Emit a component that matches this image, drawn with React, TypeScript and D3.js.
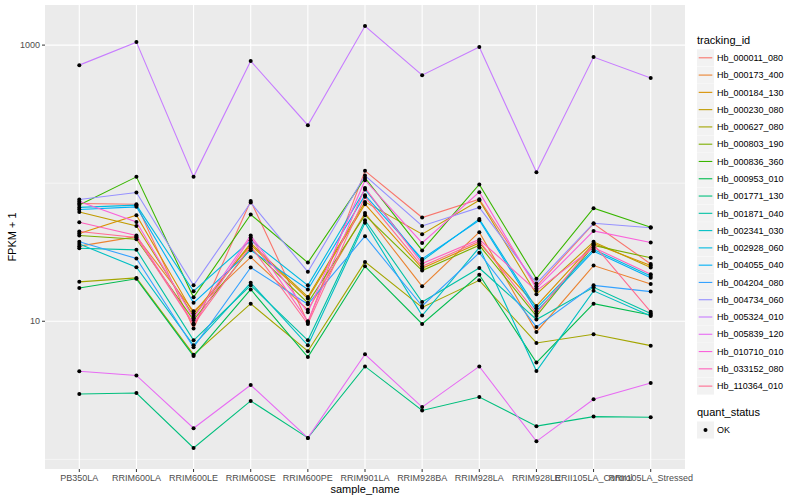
import * as d3 from 'd3';
import { useEffect, useRef } from 'react';

const samples = [
  'PB350LA', 'RRIM600LA', 'RRIM600LE', 'RRIM600SE', 'RRIM600PE', 'RRIM901LA',
  'RRIM928BA', 'RRIM928LA', 'RRIM928LE', 'RRII105LA_Control', 'RRII105LA_Stressed',
];

const trackingIds = [
  'Hb_000011_080', 'Hb_000173_400', 'Hb_000184_130', 'Hb_000230_080', 'Hb_000627_080',
  'Hb_000803_190', 'Hb_000836_360', 'Hb_000953_010', 'Hb_001771_130', 'Hb_001871_040',
  'Hb_002341_030', 'Hb_002928_060', 'Hb_004055_040', 'Hb_004204_080', 'Hb_004734_060',
  'Hb_005324_010', 'Hb_005839_120', 'Hb_010710_010', 'Hb_033152_080', 'Hb_110364_010',
];

// FPKM + 1 per sample, one array per tracking id
const hb000011 = [71.3, 70.4, 8.85, 74.4, 9.78, 122.8, 56.4, 76.6, 17.9, 50.9, 26.0];
const hb000173 = [35.0, 41.0, 11.8, 29.1, 12.1, 60.9, 17.9, 44.2, 8.37, 25.3, 18.6];
const hb000184 = [43.2, 58.6, 11.4, 35.8, 14.6, 70.4, 24.2, 36.9, 12.9, 36.6, 25.3];
const hb000230 = [61.9, 49.0, 10.9, 36.8, 15.0, 73.2, 42.7, 75.3, 15.7, 37.6, 24.5];
const hb000627 = [19.3, 20.6, 5.73, 13.4, 6.06, 26.9, 12.6, 19.8, 6.96, 8.05, 6.66];
const hb000803 = [41.8, 39.3, 10.2, 33.8, 13.6, 58.6, 23.3, 35.5, 10.9, 35.4, 28.8];
const hb000836 = [69.6, 111.1, 14.9, 59.3, 26.6, 109.2, 32.6, 97.8, 20.3, 65.9, 48.0];
const hb000953 = [17.4, 20.3, 5.6, 17.0, 5.5, 25.0, 9.56, 21.7, 5.02, 13.4, 11.1];
const hb001771 = [2.97, 3.02, 1.21, 2.65, 1.43, 4.71, 2.26, 2.83, 1.74, 2.04, 2.02];
const hb001871 = [33.8, 32.9, 7.28, 18.2, 7.28, 53.9, 13.8, 24.3, 10.3, 17.6, 11.4];
const hb002341 = [36.3, 24.6, 6.7, 19.0, 6.7, 51.6, 11.0, 34.2, 4.36, 16.6, 10.9];
const hb002928 = [66.8, 69.3, 16.5, 38.6, 18.2, 90.1, 27.4, 55.1, 12.4, 33.1, 21.3];
const hb004055 = [64.5, 67.4, 13.6, 32.7, 17.0, 81.9, 28.3, 53.9, 11.8, 32.2, 20.7];
const hb004204 = [37.6, 28.5, 6.48, 24.5, 13.3, 41.3, 12.9, 31.3, 9.1, 18.2, 16.4];
const hb004734 = [76.2, 85.6, 18.2, 72.4, 22.8, 113.7, 49.0, 66.8, 18.8, 51.3, 47.5];
const hb005324 = [716, 1051, 111.1, 766, 263, 1373, 606, 967, 120.2, 819, 577];
const hb005839 = [4.34, 4.05, 1.68, 3.45, 1.43, 5.77, 2.39, 4.71, 1.35, 2.72, 3.57];
const hb010710 = [73.7, 52.4, 10.5, 41.8, 11.6, 105.1, 36.9, 86.1, 17.3, 45.1, 37.2];
const hb033152 = [52.2, 41.8, 9.62, 40.4, 10.0, 92.4, 26.2, 39.1, 16.6, 34.2, 21.9];
const hb110364 = [44.7, 40.4, 9.46, 35.0, 9.56, 79.7, 25.0, 38.0, 11.4, 36.1, 11.7];

const seriesValues = [
  hb000011, hb000173, hb000184, hb000230, hb000627, hb000803, hb000836, hb000953,
  hb001771, hb001871, hb002341, hb002928, hb004055, hb004204, hb004734, hb005324,
  hb005839, hb010710, hb033152, hb110364,
];

const yTicks = [10, 1000];
const yMinor = [1, 100];
const quantStatus = ['OK'];

const palette = [
  '#F8766D', '#EA8331', '#D89000', '#C09B00', '#A3A500', '#7CAE00', '#39B600', '#00BB4E',
  '#00BF7D', '#00C1A3', '#00BFC4', '#00BAE0', '#00B0F6', '#35A2FF', '#9590FF', '#C77CFF',
  '#E76BF3', '#FA62DB', '#FF62BC', '#FF6C91',
];

const FONT = '"Liberation Sans", Arial, sans-serif';

const App = () => {
  const svgRef = useRef<SVGSVGElement | null>(null);

  useEffect(() => {
    if (!svgRef.current) return;
    const svg = d3.select(svgRef.current);
    svg.selectAll('*').remove();

    const panel = { left: 45, right: 685, top: 5, bottom: 469 };

    const x = d3
      .scalePoint<string>()
      .domain(samples)
      .range([panel.left, panel.right])
      .padding(0.6);

    const all = seriesValues.flat();
    const lo = Math.log10(d3.min(all) as number);
    const hi = Math.log10(d3.max(all) as number);
    const pad = (hi - lo) * 0.05;
    const y = d3
      .scaleLog()
      .domain([10 ** (lo - pad), 10 ** (hi + pad)])
      .range([panel.bottom, panel.top]);

    svg.append('rect').attr('width', 800).attr('height', 500).attr('fill', '#fff');

    svg
      .append('rect')
      .attr('x', panel.left)
      .attr('y', panel.top)
      .attr('width', panel.right - panel.left)
      .attr('height', panel.bottom - panel.top)
      .attr('fill', '#EBEBEB');

    const grid = svg.append('g');
    grid
      .selectAll('.minor')
      .data(yMinor)
      .enter()
      .append('line')
      .attr('x1', panel.left)
      .attr('x2', panel.right)
      .attr('y1', (d) => y(d))
      .attr('y2', (d) => y(d))
      .attr('stroke', '#fff')
      .attr('stroke-width', 0.55);
    grid
      .selectAll('.major')
      .data(yTicks)
      .enter()
      .append('line')
      .attr('x1', panel.left)
      .attr('x2', panel.right)
      .attr('y1', (d) => y(d))
      .attr('y2', (d) => y(d))
      .attr('stroke', '#fff')
      .attr('stroke-width', 1.1);
    grid
      .selectAll('.vx')
      .data(samples)
      .enter()
      .append('line')
      .attr('x1', (d) => x(d) as number)
      .attr('x2', (d) => x(d) as number)
      .attr('y1', panel.top)
      .attr('y2', panel.bottom)
      .attr('stroke', '#fff')
      .attr('stroke-width', 1.1);

    const line = d3
      .line<number>()
      .x((_, i) => x(samples[i]) as number)
      .y((d) => y(d));

    svg
      .append('g')
      .selectAll('path')
      .data(seriesValues)
      .enter()
      .append('path')
      .attr('d', (d) => line(d))
      .attr('fill', 'none')
      .attr('stroke', (_, i) => palette[i])
      .attr('stroke-width', 1.1);

    const pts = seriesValues.flatMap((vals) => vals.map((v, i) => ({ s: samples[i], v })));
    svg
      .append('g')
      .selectAll('circle')
      .data(pts)
      .enter()
      .append('circle')
      .attr('cx', (d) => x(d.s) as number)
      .attr('cy', (d) => y(d.v))
      .attr('r', 2)
      .attr('fill', '#000');

    // y axis
    const yAxis = svg.append('g');
    yAxis
      .selectAll('line')
      .data(yTicks)
      .enter()
      .append('line')
      .attr('x1', panel.left - 3)
      .attr('x2', panel.left)
      .attr('y1', (d) => y(d))
      .attr('y2', (d) => y(d))
      .attr('stroke', '#333');
    yAxis
      .selectAll('text')
      .data(yTicks)
      .enter()
      .append('text')
      .attr('x', panel.left - 5)
      .attr('y', (d) => y(d) + 3)
      .attr('text-anchor', 'end')
      .attr('font-size', 9)
      .attr('font-family', FONT)
      .attr('fill', '#4D4D4D')
      .text((d) => String(d));

    // x axis
    const xAxis = svg.append('g');
    xAxis
      .selectAll('line')
      .data(samples)
      .enter()
      .append('line')
      .attr('x1', (d) => x(d) as number)
      .attr('x2', (d) => x(d) as number)
      .attr('y1', panel.bottom)
      .attr('y2', panel.bottom + 3)
      .attr('stroke', '#333');
    xAxis
      .selectAll('text')
      .data(samples)
      .enter()
      .append('text')
      .attr('x', (d) => x(d) as number)
      .attr('y', panel.bottom + 12)
      .attr('text-anchor', 'middle')
      .attr('font-size', 9)
      .attr('font-family', FONT)
      .attr('fill', '#4D4D4D')
      .text((d) => d);

    svg
      .append('text')
      .attr('x', (panel.left + panel.right) / 2)
      .attr('y', 493)
      .attr('text-anchor', 'middle')
      .attr('font-size', 11)
      .attr('font-family', FONT)
      .text('sample_name');

    svg
      .append('text')
      .attr('transform', `translate(16,${(panel.top + panel.bottom) / 2}) rotate(-90)`)
      .attr('text-anchor', 'middle')
      .attr('font-size', 11)
      .attr('font-family', FONT)
      .text('FPKM + 1');

    // legend: tracking_id
    const lg = svg.append('g').attr('transform', 'translate(697,0)');
    lg.append('text')
      .attr('x', 0)
      .attr('y', 44)
      .attr('font-size', 11)
      .attr('font-family', FONT)
      .text('tracking_id');
    const keyH = 17.28;
    const items = lg
      .selectAll('.key')
      .data(trackingIds)
      .enter()
      .append('g')
      .attr('transform', (_, i) => `translate(0,${49.3 + i * keyH})`);
    items
      .append('rect')
      .attr('width', 17)
      .attr('height', 17)
      .attr('fill', '#F2F2F2');
    items
      .append('line')
      .attr('x1', 1.7)
      .attr('x2', 15.3)
      .attr('y1', 8.5)
      .attr('y2', 8.5)
      .attr('stroke', (_, i) => palette[i])
      .attr('stroke-width', 1.1);
    items
      .append('text')
      .attr('x', 20)
      .attr('y', 11.7)
      .attr('font-size', 9)
      .attr('font-family', FONT)
      .text((d) => d);

    // legend: quant_status
    const lq = svg.append('g').attr('transform', 'translate(697,0)');
    lq.append('text')
      .attr('x', 0)
      .attr('y', 416)
      .attr('font-size', 11)
      .attr('font-family', FONT)
      .text('quant_status');
    const q = lq
      .selectAll('.q')
      .data(quantStatus)
      .enter()
      .append('g')
      .attr('transform', (_, i) => `translate(0,${421.5 + i * keyH})`);
    q.append('rect').attr('width', 17).attr('height', 17).attr('fill', '#F2F2F2');
    q.append('circle').attr('cx', 8.5).attr('cy', 8.5).attr('r', 2).attr('fill', '#000');
    q.append('text')
      .attr('x', 20)
      .attr('y', 11.7)
      .attr('font-size', 9)
      .attr('font-family', FONT)
      .text((d) => d);
  }, []);

  return (
    <svg
      ref={svgRef}
      width={800}
      height={500}
      style={{ position: 'absolute', left: 0, top: 0 }}
    ></svg>
  );
};

export default App;
